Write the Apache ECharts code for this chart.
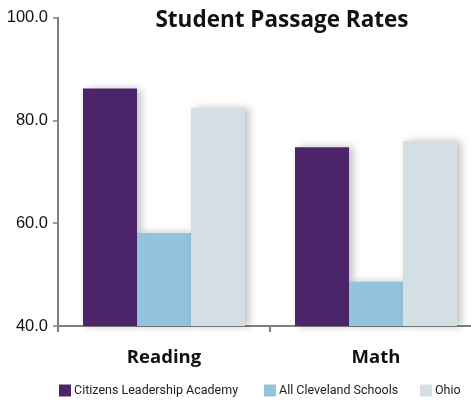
<!DOCTYPE html>
<html><head><meta charset="utf-8">
<script src="https://cdn.jsdelivr.net/npm/echarts@6/dist/echarts.min.js"></script>
<style>html,body{margin:0;padding:0;background:#fff;overflow:hidden}#c{width:482px;height:403px}</style>
</head><body><div id="c"></div>
<script>
var categories = ['Reading', 'Math'];
var seriesNames = ['Citizens Leadership Academy', 'All Cleveland Schools', 'Ohio'];
var citizens = [86.2, 74.8];
var cleveland = [58.1, 48.6];
var ohio = [82.4, 76.0];
var yTicks = [40, 60, 80, 100];
var colors = ['#4B2469', '#93C4DD', '#D3DEE5'];
var legendLefts = [59, 264, 420];

var chart = echarts.init(document.getElementById('c'));
function mk(name, data, color) {
  return {
    name: name, type: 'bar', data: data, barWidth: 54, barGap: '0%',
    itemStyle: { color: color, shadowColor: 'rgba(0,0,0,0.25)', shadowBlur: 8, shadowOffsetX: 4, shadowOffsetY: 0 }
  };
}
var legends = seriesNames.map(function (n, i) {
  return { left: legendLefts[i], top: 384, padding: 0, itemWidth: 12, itemHeight: 12, itemGap: 4, icon: 'rect',
    textStyle: { fontFamily: 'Roboto', fontSize: 12.5, color: '#222', padding: [0, 0, 0, -2] },
    data: [n] };
});
chart.setOption({
  animation: false,
  title: { text: 'Student Passage Rates', left: 277, textAlign: 'center', top: 4,
    textStyle: { fontFamily: 'Open Sans', fontWeight: 'bold', fontSize: 22.5, color: '#111' } },
  legend: legends,
  grid: { left: 58, top: 17.7, right: 0, bottom: 77 },
  xAxis: { type: 'category', data: categories,
    axisLine: { lineStyle: { color: '#808080', width: 2 } },
    axisTick: { show: true, length: 6, lineStyle: { color: '#808080', width: 2 } },
    axisLabel: { margin: 22, fontFamily: 'Open Sans', fontWeight: 'bold', fontSize: 18.5, color: '#111' } },
  yAxis: { type: 'value', min: yTicks[0], max: yTicks[yTicks.length - 1], interval: 20,
    axisLine: { show: true, lineStyle: { color: '#808080', width: 2 } },
    axisTick: { show: true, length: 5, lineStyle: { color: '#808080', width: 1.5 } },
    splitLine: { show: false },
    axisLabel: { margin: 10, fontFamily: 'Liberation Sans', fontSize: 16.5, color: '#111',
      formatter: function (v) { return v.toFixed(1); } } },
  series: [mk(seriesNames[0], citizens, colors[0]), mk(seriesNames[1], cleveland, colors[1]), mk(seriesNames[2], ohio, colors[2])]
});
</script></body></html>
